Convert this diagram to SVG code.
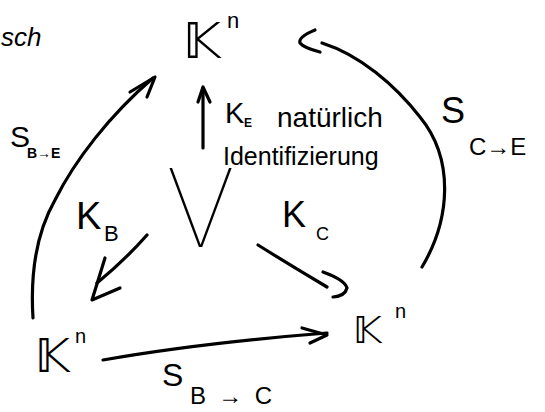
<svg xmlns="http://www.w3.org/2000/svg" width="545" height="412" viewBox="0 0 545 412">
<style>
.ink{fill:none;stroke:#000;stroke-width:3.2;stroke-linecap:round;stroke-linejoin:round}
.t{font-family:"Liberation Sans",Arial,sans-serif;fill:#000}
.bb{font-family:"DejaVu Sans","Noto Sans",sans-serif;fill:#000}
.v{font-family:"Inter","Roboto","Lato",sans-serif;font-weight:100;fill:#000}
</style>
<rect width="545" height="412" fill="#fff"/>
<text class="t" x="1" y="46" font-size="26" font-style="italic">sch</text>

<g id="kn-top">
  <text class="bb" x="183" y="58" font-size="50">𝕂</text>
  <text class="t" x="227" y="28" font-size="22">n</text>
</g>
<g id="kn-left">
  <text class="bb" x="35" y="372" font-size="46">𝕂</text>
  <text class="t" x="75" y="343" font-size="20">n</text>
</g>
<g id="kn-right">
  <text class="bb" x="353" y="343" font-size="38">𝕂</text>
  <text class="t" x="395" y="318" font-size="20">n</text>
</g>
<g id="v-center">
  <text class="v" x="166" y="247" font-size="108">V</text>
</g>

<g id="connectors">
  <path class="ink" d="M33,318 C30,270 38,230 55,200 C75,160 110,115 153,78"/>
  <path class="ink" d="M130,92 L155,77 L147,97"/>
  <path class="ink" d="M422,267 C450,220 455,160 420,117 C395,85 360,55 322,43"/>
  <path class="ink" d="M315,30 Q298,37 300,43 Q304,48 320,52"/>
  <path class="ink" d="M203,148 L203,88"/>
  <path class="ink" d="M198,102 L203,87 L210,102"/>
  <path class="ink" d="M147,235 Q125,260 97,283"/>
  <path class="ink" d="M105,258 L92,300 L120,288"/>
  <path class="ink" d="M258,245 Q290,265 327,287"/>
  <path class="ink" d="M323,272 Q345,280 347,288 Q345,296 333,297"/>
  <path class="ink" d="M103,360 Q200,343 327,333"/>
  <path class="ink" d="M302,328 L327,335 L310,343"/>
</g>

<g id="labels">
  <text class="t" x="10" y="147" font-size="30">S</text>
  <text class="t" x="27" y="158" font-size="14" font-weight="bold">B→E</text>
  <text class="t" x="441" y="123" font-size="36">S</text>
  <text class="t" x="469" y="155" font-size="24">C→E</text>
  <text class="t" x="225" y="123" font-size="29">K</text>
  <text class="t" x="244" y="127" font-size="12" font-weight="bold">E</text>
  <text class="t" x="277" y="127" font-size="28">natürlich</text>
  <text class="t" x="223" y="165" font-size="25">Identifizierung</text>
  <text class="t" x="76" y="229" font-size="38">K</text>
  <text class="t" x="104" y="241" font-size="22">B</text>
  <text class="t" x="282" y="227" font-size="36">K</text>
  <text class="t" x="316" y="240" font-size="18">C</text>
  <text class="t" x="162" y="386" font-size="32">S</text>
  <text class="t" x="190" y="404" font-size="24" textLength="82" lengthAdjust="spacing">B→C</text>
</g>
</svg>
